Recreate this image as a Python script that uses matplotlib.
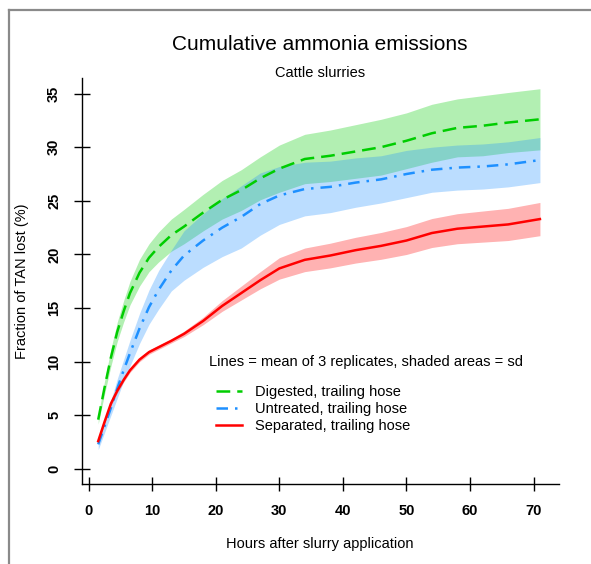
import matplotlib
matplotlib.use("Agg")
import matplotlib.pyplot as plt
from matplotlib.lines import Line2D
import numpy as np

plt.rcParams['font.family'] = ['Liberation Sans', 'DejaVu Sans']

hours = [1.5, 2.5, 3.5, 4.5, 5.5, 6.5, 8, 9.5, 11, 13, 15, 18, 21, 24, 27, 30,
         34, 38, 42, 46, 50, 54, 58, 62, 66, 71]

digested_mean = [4.6, 7.6, 10.4, 12.8, 14.7, 16.4, 18.3, 19.7, 20.7, 21.8, 22.6, 23.9, 25.1,
                 26.0, 27.1, 28.0, 28.9, 29.2, 29.6, 30.0, 30.6, 31.3, 31.8, 32.0, 32.3, 32.6]
digested_sd = [0.4, 0.6, 0.8, 0.9, 1.0, 1.1, 1.25, 1.3, 1.4, 1.5, 1.6, 1.7, 1.8,
               1.9, 2.0, 2.2, 2.3, 2.4, 2.5, 2.6, 2.6, 2.7, 2.7, 2.8, 2.8, 2.85]

untreated_mean = [2.3, 4.0, 5.7, 7.5, 9.2, 10.8, 13.1, 15.1, 16.7, 18.5, 19.9, 21.3, 22.5,
                  23.5, 24.7, 25.5, 26.1, 26.3, 26.7, 27.0, 27.5, 27.9, 28.1, 28.2, 28.4, 28.8]
untreated_sd = [0.5, 0.6, 0.7, 0.9, 1.0, 1.2, 1.4, 1.6, 1.8, 1.9, 2.3, 2.5, 2.7,
                2.9, 2.9, 2.7, 2.5, 2.4, 2.3, 2.2, 2.2, 2.1, 2.1, 2.1, 2.1, 2.1]

separated_mean = [2.6, 4.4, 6.1, 7.3, 8.3, 9.2, 10.2, 10.9, 11.35, 11.95, 12.6, 13.8, 15.2,
                  16.4, 17.6, 18.7, 19.5, 19.9, 20.4, 20.8, 21.3, 22.0, 22.4, 22.6, 22.8, 23.3]
separated_sd = [0.2, 0.2, 0.2, 0.2, 0.2, 0.2, 0.2, 0.2, 0.2, 0.2, 0.25, 0.35, 0.5,
                0.65, 0.8, 1.0, 1.1, 1.15, 1.2, 1.25, 1.3, 1.35, 1.4, 1.45, 1.5, 1.55]

labels = ['Digested, trailing hose', 'Untreated, trailing hose', 'Separated, trailing hose']
colors = ['#00cd00', '#1e90ff', '#ff0000']
styles = [(0, (5.5, 2.8)), (0, (4.6, 2.8, 1.0, 2.8)), '-']

x_ticks = [0, 10, 20, 30, 40, 50, 60, 70]
y_ticks = [0, 5, 10, 15, 20, 25, 30, 35]

W, H = 591, 564
fig = plt.figure(figsize=(W / 100, H / 100), dpi=100)
ax = fig.add_axes([82 / W, 1 - 483.5 / H, (559 - 82) / W, (483.5 - 78) / H])

h = np.array(hours)
series = [(digested_mean, digested_sd), (untreated_mean, untreated_sd), (separated_mean, separated_sd)]

for (m, s), c in zip(series, colors):
    m = np.array(m)
    s = np.array(s)
    ax.fill_between(h, m - s, m + s, color=c, alpha=0.3, linewidth=0)

handles = []
for (m, s), c, ls, lab in zip(series, colors, styles, labels):
    ln, = ax.plot(h, m, color=c, linestyle=ls, linewidth=1.8, label=lab)
    handles.append(ln)

ax.set_xlim(-1.05, 74.0)
ax.set_ylim(-1.35, 36.45)
ax.set_xticks(x_ticks)
ax.set_yticks(y_ticks)
ax.spines['top'].set_visible(False)
ax.spines['right'].set_visible(False)
for sp in ['left', 'bottom']:
    ax.spines[sp].set_linewidth(1.0)
ax.tick_params(axis='y', direction='inout', length=12, width=1.0, labelsize=10.5,
               labelrotation=90, pad=9)
ax.tick_params(axis='x', direction='inout', length=10, width=1.0, labelsize=10.5, pad=10)
for t in ax.get_xticklabels() + ax.get_yticklabels():
    t.set_fontweight('bold')
for t in ax.get_yticklabels():
    t.set_verticalalignment('center')

cx = 320 / W
fig.text(cx, 1 - 45 / H, 'Cumulative ammonia emissions', ha='center', va='center', fontsize=15)
fig.text(cx, 1 - 73 / H, 'Cattle slurries', ha='center', va='center', fontsize=10.5)
fig.text(cx, 1 - 544 / H, 'Hours after slurry application', ha='center', va='center', fontsize=10.5)
fig.text(22 / W, 1 - 281 / H, 'Fraction of TAN lost (%)', ha='center', va='center',
         rotation=90, fontsize=10.5)

fig.text(209 / W, 1 - 362 / H, 'Lines = mean of 3 replicates, shaded areas = sd',
         ha='left', va='center', fontsize=10.5)
ax.legend(handles=handles, loc='upper left', bbox_to_anchor=(216 / W, 1 - 385 / H),
          bbox_transform=fig.transFigure, frameon=False, fontsize=10.5, borderpad=0,
          borderaxespad=0, handlelength=1.8, handletextpad=0.9, labelspacing=0.2)

# screenshot frame
fig.add_artist(Line2D([9 / W, 9 / W], [0, 1 - 10 / H], transform=fig.transFigure,
                      color='#8a8a8a', linewidth=1.6))
fig.add_artist(Line2D([9 / W, 1], [1 - 10 / H, 1 - 10 / H], transform=fig.transFigure,
                      color='#8a8a8a', linewidth=1.6))

fig.savefig('out.png', dpi=100)
